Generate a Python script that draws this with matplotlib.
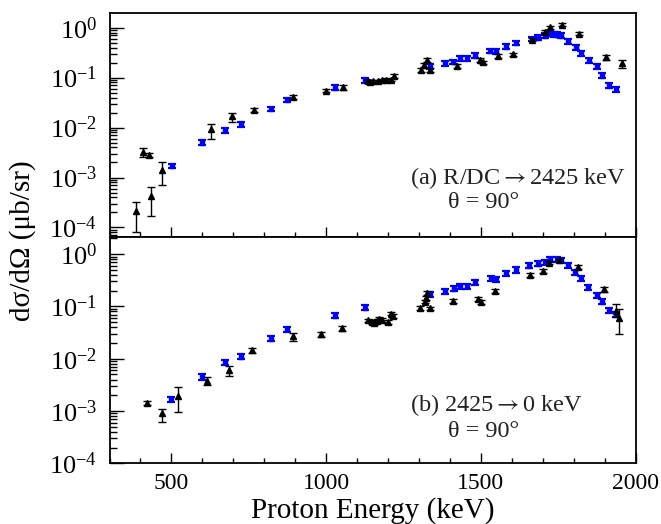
import numpy as np
import matplotlib
matplotlib.use('Agg')
import matplotlib.pyplot as plt
from matplotlib import ticker

plt.rcParams['font.family'] = ['Liberation Serif', 'DejaVu Serif']
plt.rcParams['mathtext.fontset'] = 'custom'
plt.rcParams['mathtext.rm'] = 'Liberation Serif'
plt.rcParams['mathtext.it'] = 'Liberation Serif:italic'

# ---- panel (a) R/DC -> 2425 keV ----
a_blue_x = [501, 600, 673, 724, 823, 874, 1030, 1125, 1335, 1384, 1411, 1432, 1456, 1482,
            1529, 1549, 1580, 1612, 1664, 1683, 1707, 1721, 1736, 1747, 1759, 1782, 1807,
            1822, 1849, 1874, 1891, 1914, 1935]
a_blue_y = [1.71e-3, 5.0e-3, 8.9e-3, 1.17e-2, 2.37e-2, 3.58e-2, 6.3e-2, 0.0887, 0.166, 0.194,
            0.206, 0.247, 0.244, 0.275, 0.342, 0.337, 0.417, 0.494, 0.594, 0.63, 0.69, 0.76,
            0.74, 0.725, 0.69, 0.54, 0.41, 0.31, 0.223, 0.169, 0.11, 0.069, 0.0586]

a_blk_x = [386, 407, 427, 435, 471, 627, 697, 767, 894, 998, 1054, 1135, 1143, 1152, 1168,
           1179, 1193, 1208, 1219, 1306, 1316, 1325, 1335, 1423, 1497, 1506, 1554, 1605,
           1664, 1706, 1723, 1761, 1818, 1903, 1955]
a_blk_y = [2.16e-4, 3.31e-3, 2.84e-3, 4.3e-4, 1.43e-3, 9.3e-3, 1.71e-2, 2.26e-2, 4.06e-2,
           5.5e-2, 6.4e-2, 0.0847, 0.083, 0.0847, 0.086, 0.089, 0.091, 0.090, 0.108, 0.143,
           0.18, 0.226, 0.143, 0.174, 0.226, 0.203, 0.272, 0.294, 0.575, 0.83, 1.02, 1.15,
           0.76, 0.256, 0.194]
# relative error bars (down, up)
a_blk_dn = [0.62, 0.21, 0.10, 0.60, 0.50, 0.37, 0.26, 0.10, 0.10, 0.08, 0.10, 0.06, 0.06,
            0.06, 0.06, 0.06, 0.06, 0.06, 0.08, 0.08, 0.10, 0.10, 0.08, 0.10, 0.08, 0.08,
            0.08, 0.08, 0.08, 0.10, 0.08, 0.08, 0.08, 0.10, 0.19]
a_blk_up = [0.53, 0.20, 0.10, 0.53, 0.40, 0.28, 0.17, 0.10, 0.10, 0.08, 0.10, 0.06, 0.06,
            0.06, 0.06, 0.06, 0.06, 0.06, 0.08, 0.08, 0.10, 0.10, 0.08, 0.10, 0.08, 0.08,
            0.08, 0.08, 0.08, 0.10, 0.08, 0.08, 0.08, 0.10, 0.17]

# ---- panel (b) 2425 -> 0 keV ----
b_blue_x = [500, 600, 673, 724, 823, 874, 1030, 1127, 1335, 1384, 1414, 1432, 1456, 1482,
            1531, 1548, 1580, 1612, 1656, 1683, 1707, 1723, 1747, 1759, 1782, 1805, 1822,
            1847, 1874, 1891, 1914, 1935]
b_blue_y = [1.69e-3, 4.5e-3, 8.6e-3, 1.09e-2, 2.4e-2, 3.68e-2, 6.6e-2, 0.094, 0.17, 0.193,
            0.217, 0.244, 0.241, 0.29, 0.343, 0.33, 0.427, 0.5, 0.597, 0.66, 0.70, 0.79,
            0.79, 0.77, 0.62, 0.45, 0.35, 0.23, 0.164, 0.124, 0.085, 0.071]

b_blk_x = [421, 471, 522, 615, 687, 759, 893, 983, 1050, 1136, 1147, 1155, 1163, 1172, 1181,
           1199, 1208, 1215, 1302, 1318, 1321, 1327, 1335, 1411, 1492, 1501, 1544, 1660,
           1701, 1720, 1753, 1815, 1898, 1935, 1946]
b_blk_y = [1.42e-3, 9.0e-4, 1.93e-3, 3.78e-3, 5.97e-3, 1.46e-2, 2.7e-2, 2.95e-2, 3.8e-2,
           0.054, 0.051, 0.049, 0.053, 0.057, 0.055, 0.051, 0.073, 0.065, 0.094, 0.124,
           0.146, 0.182, 0.092, 0.128, 0.138, 0.121, 0.196, 0.397, 0.473, 0.69, 0.76, 0.57,
           0.214, 0.081, 0.059]
b_blk_dn = [0.10, 0.31, 0.50, 0.18, 0.21, 0.12, 0.19, 0.12, 0.10, 0.08, 0.08, 0.08, 0.08,
            0.08, 0.08, 0.08, 0.08, 0.08, 0.08, 0.08, 0.08, 0.10, 0.08, 0.08, 0.08, 0.08,
            0.08, 0.08, 0.08, 0.08, 0.08, 0.10, 0.10, 0.23, 0.49]
b_blk_up = [0.10, 0.21, 0.47, 0.19, 0.21, 0.12, 0.15, 0.12, 0.10, 0.08, 0.08, 0.08, 0.08,
            0.08, 0.08, 0.08, 0.08, 0.08, 0.08, 0.08, 0.08, 0.10, 0.08, 0.08, 0.08, 0.08,
            0.08, 0.08, 0.08, 0.08, 0.08, 0.10, 0.10, 0.37, 0.49]

blue_err = 0.11  # blue points all carry small errors of ~11%

labels_a = [r'(a) R/DC$\rightarrow$2425 keV', '\u03b8 = 90\u00b0']
labels_b = [r'(b) 2425$\rightarrow$0 keV', '\u03b8 = 90\u00b0']


def decade_fmt(v, pos):
    return r'$\mathregular{10^{%d}}$' % int(round(np.log10(v)))


def draw_panel(ax, bx, by, kx, ky, kdn, kup, ylim, labels, text_y):
    bx = np.array(bx); by = np.array(by)
    kx = np.array(kx); ky = np.array(ky)
    ax.errorbar(bx, by, yerr=[by * blue_err, by * blue_err], fmt='s', color='#0000ff',
                ms=3.2, elinewidth=1.6, capsize=3, capthick=1.6, zorder=3)
    ax.errorbar(kx, ky, yerr=[ky * np.array(kdn), ky * np.array(kup)], fmt='^', color='black',
                ms=5, elinewidth=1.0, capsize=3, capthick=1.0, zorder=4)
    ax.set_yscale('log')
    ax.set_xlim(300, 2000)
    ax.set_ylim(*ylim)
    ax.yaxis.set_major_locator(ticker.LogLocator(base=10, numticks=10))
    ax.yaxis.set_minor_locator(ticker.LogLocator(base=10, subs=np.arange(2, 10), numticks=20))
    ax.yaxis.set_major_formatter(ticker.FuncFormatter(decade_fmt))
    ax.yaxis.set_minor_formatter(ticker.NullFormatter())
    ax.xaxis.set_major_locator(ticker.MultipleLocator(500))
    ax.xaxis.set_minor_locator(ticker.MultipleLocator(100))
    ax.tick_params(axis='y', which='major', direction='in', length=10, width=1.0,
                   labelsize=19, pad=9, right=False)
    ax.tick_params(axis='y', which='minor', direction='in', length=5, width=1.0, right=False)
    ax.tick_params(axis='x', which='major', direction='in', length=7.5, width=1.0,
                   labelsize=17, pad=7, top=False)
    ax.tick_params(axis='x', which='minor', direction='in', length=3.8, width=1.0, top=False)
    for s in ax.spines.values():
        s.set_linewidth(1.3)
    ax.text(0.571, text_y[0], labels[0], transform=ax.transAxes, fontsize=17.5,
            ha='left', va='center', color='#222222', math_fontfamily='stix')
    ax.text(0.643, text_y[1], labels[1], transform=ax.transAxes, fontsize=17.5,
            ha='left', va='center', color='#222222')


fig = plt.figure(figsize=(6.61, 5.24), dpi=100)
ax1 = fig.add_axes([0.1657, 0.5468, 0.7960, 0.4290])
ax2 = fig.add_axes([0.1657, 0.1158, 0.7960, 0.4310])

draw_panel(ax1, a_blue_x, a_blue_y, a_blk_x, a_blk_y, a_blk_dn, a_blk_up,
           (10 ** -4.2, 10 ** 0.3), labels_a, (0.265, 0.154))
draw_panel(ax2, b_blue_x, b_blue_y, b_blk_x, b_blk_y, b_blk_dn, b_blk_up,
           (1e-4, 10 ** 0.318), labels_b, (0.258, 0.14))
ax1.tick_params(axis='x', labelbottom=False)

ax2.set_xlabel('Proton Energy (keV)', fontsize=21, labelpad=2)
fig.text(0.034, 0.54, 'd\u03c3/d\u03a9 (\u03bcb/sr)', rotation=90, fontsize=21,
         ha='center', va='center')

fig.savefig('out.png', dpi=100)
